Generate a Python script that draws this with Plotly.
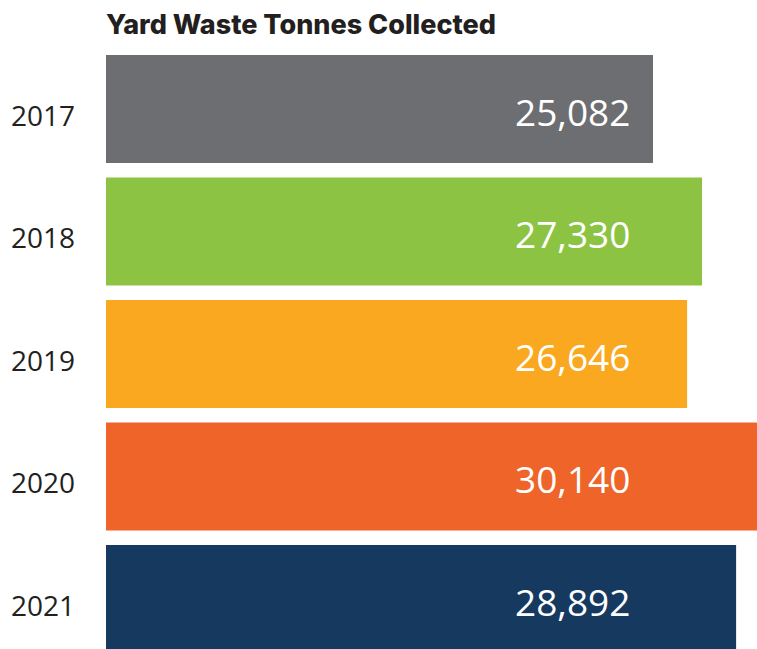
import plotly.graph_objects as go

# Data
years = ["2017", "2018", "2019", "2020", "2021"]
tonnes = [25082, 27330, 26646, 30140, 28892]
bar_colors = ["#6d6e71", "#8dc343", "#faa81f", "#ee6429", "#163a5f"]
title_text = "Yard Waste Tonnes Collected"

W, H = 757, 649

fig = go.Figure()
fig.add_trace(go.Bar(
    x=tonnes,
    y=years,
    orientation="h",
    marker=dict(color=bar_colors, line=dict(width=0)),
    hoverinfo="x+y",
    showlegend=False,
))

# value labels all end at the same x, so use annotations (category index for y)
for i, v in enumerate(tonnes):
    fig.add_annotation(
        x=0.808, xref="paper", xanchor="right",
        y=i, yref="y", yanchor="middle", yshift=-2,
        text=f"{v:,}", showarrow=False,
        font=dict(family="Open Sans", size=37, color="white"),
    )

fig.update_layout(
    width=W, height=H,
    margin=dict(l=106, r=0, t=48, b=0),
    paper_bgcolor="white", plot_bgcolor="white",
    bargap=0.118,
    title=dict(
        text=title_text,
        x=0, xref="paper", xanchor="left",
        y=1 - 25 / H, yref="container", yanchor="middle",
        font=dict(family="Inter", size=27, weight=800, color="#231f20"),
    ),
    xaxis=dict(range=[0, 29850], visible=False, fixedrange=True),
    yaxis=dict(
        type="category",
        range=[4.408, -0.498],
        showgrid=False, zeroline=False, showline=False,
        ticks="", ticklabelstandoff=30, ticklabelshift=-7,
        tickfont=dict(family="Open Sans", size=28, color="#231f20"),
        fixedrange=True,
    ),
)

# drop the default body margin so the figure fills the window exactly
fig.write_html(
    "out.html",
    config={"displayModeBar": False},
    post_script="document.body.style.margin='0';",
)
